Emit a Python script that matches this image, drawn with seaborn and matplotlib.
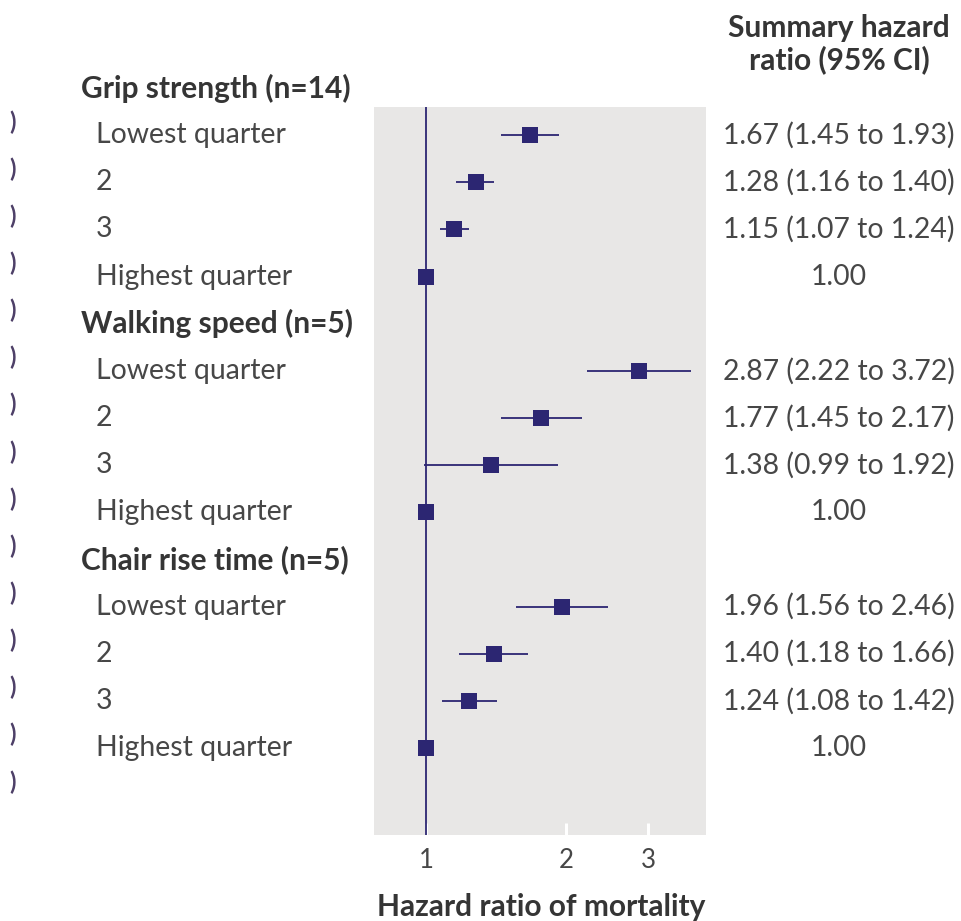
import numpy as np
import pandas as pd
import matplotlib
matplotlib.use("Agg")
import matplotlib.pyplot as plt
import matplotlib.transforms as mtransforms
from matplotlib.ticker import FixedLocator, NullLocator
import seaborn as sns

# Forest plot rows: group headers and quarters
groups = ["Grip strength (n=14)", "Walking speed (n=5)", "Chair rise time (n=5)"]
quarters = ["Lowest quarter", "2", "3", "Highest quarter"]

hr_grip = [1.67, 1.28, 1.15, 1.00]
lo_grip = [1.45, 1.16, 1.07, None]
hi_grip = [1.93, 1.40, 1.24, None]

hr_walk = [2.87, 1.77, 1.38, 1.00]
lo_walk = [2.22, 1.45, 0.99, None]
hi_walk = [3.72, 2.17, 1.92, None]

hr_chair = [1.96, 1.40, 1.24, 1.00]
lo_chair = [1.56, 1.18, 1.08, None]
hi_chair = [2.46, 1.66, 1.42, None]

x_ticks = [1, 2, 3]
x_ticklabels = ["1", "2", "3"]

NAVY = "#2c2672"
PANEL = "#e8e7e6"
TEXT = "#474747"
HEAD = "#353535"
FS = 20.4
FS_BOLD = 21.5

sns.set_theme(style="white")
plt.rcParams["font.family"] = ["Lato", "DejaVu Sans"]

# Build the long table of estimates with a row index per line
records = []
row = 0
for g, hr, lo, hi in zip(groups,
                         [hr_grip, hr_walk, hr_chair],
                         [lo_grip, lo_walk, lo_chair],
                         [hi_grip, hi_walk, hi_chair]):
    records.append(dict(row=row, label=g, header=True, hr=np.nan, lo=np.nan, hi=np.nan))
    row += 1
    for q, h, l, u in zip(quarters, hr, lo, hi):
        records.append(dict(row=row, label=q, header=False, hr=h,
                            lo=np.nan if l is None else l,
                            hi=np.nan if u is None else u))
        row += 1
df = pd.DataFrame(records)
est = df[~df.header]

W, H = 961, 921
fig = plt.figure(figsize=(W / 100, H / 100), dpi=100)
fig.patch.set_facecolor("white")

# Panel placed in pixel terms
px_left, px_right, px_top, px_bottom = 374, 706, 107, 835
ax = fig.add_axes([px_left / W, 1 - px_bottom / H,
                   (px_right - px_left) / W, (px_bottom - px_top) / H])
ax.set_facecolor(PANEL)

row0_px, step_px = 88, 47.14
ax.set_ylim((px_bottom - row0_px) / step_px, (px_top - row0_px) / step_px)
ax.set_xscale("log")
ax.set_xlim(0.773, 4.0)

# Reference line at no effect
ax.axvline(1, color=NAVY, lw=1.3, zorder=2)

# Confidence intervals
ci = est.dropna(subset=["lo", "hi"])
ax.hlines(ci.row, ci.lo, ci.hi, color=NAVY, lw=1.3, zorder=3)

# Point estimates
sns.scatterplot(data=est, x="hr", y="row", marker="s", s=120, color=NAVY,
                edgecolor=NAVY, linewidth=0, zorder=4, ax=ax, legend=False)

for s in ax.spines.values():
    s.set_visible(False)
ax.xaxis.set_major_locator(FixedLocator(x_ticks))
ax.xaxis.set_minor_locator(NullLocator())
ax.set_xticklabels(x_ticklabels)
ax.tick_params(axis="x", direction="in", length=9, width=2.2, color="white",
               labelsize=18.5, labelcolor=TEXT, pad=9, bottom=True)
ax.yaxis.set_major_locator(NullLocator())
ax.set_xlabel("")
ax.set_ylabel("")

# Row labels and estimates as text
tr = mtransforms.blended_transform_factory(fig.transFigure, ax.transData)
for _, r in df.iterrows():
    if r.header:
        ax.text(81 / W, r.row, r.label, transform=tr, ha="left", va="center",
                fontsize=FS_BOLD, fontweight="bold", color=HEAD, clip_on=False)
    else:
        ax.text(96 / W, r.row, r.label, transform=tr, ha="left", va="center",
                fontsize=FS, color=TEXT, clip_on=False)
        if np.isnan(r.lo):
            s = f"{r.hr:.2f}"
        else:
            s = f"{r.hr:.2f} ({r.lo:.2f} to {r.hi:.2f})"
        ax.text(839 / W, r.row, s, transform=tr, ha="center", va="center",
                fontsize=FS, color=TEXT, clip_on=False)

# Trailing brackets from the adjacent column
for i in range(len(df)):
    ax.text(9 / W, i + 0.72, ")", transform=tr, ha="left", va="center",
            fontsize=17, fontweight="bold", color="#4e4068", clip_on=False)

fig.text(839 / W, 1 - 28 / H, "Summary hazard", ha="center", va="center",
         fontsize=FS_BOLD, fontweight="bold", color=HEAD)
fig.text(839 / W, 1 - 60 / H, "ratio (95% CI)", ha="center", va="center",
         fontsize=FS_BOLD, fontweight="bold", color=HEAD)
fig.text(541 / W, 1 - 907 / H, "Hazard ratio of mortality", ha="center",
         va="center", fontsize=FS_BOLD, fontweight="bold", color=HEAD)

fig.savefig("out.png", dpi=100, facecolor="white")
